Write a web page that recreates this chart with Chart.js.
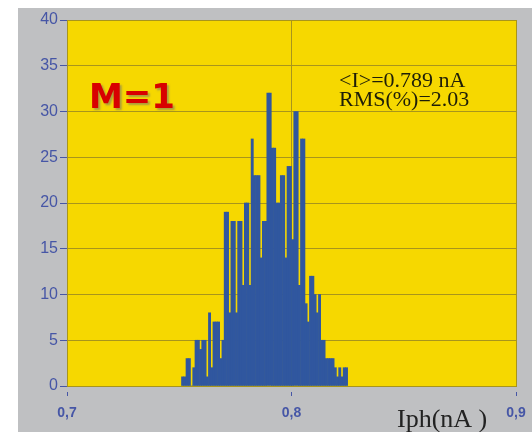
<!DOCTYPE html>
<html>
<head>
<meta charset="utf-8">
<script src="https://cdn.jsdelivr.net/npm/chart.js@4.4.0/dist/chart.umd.min.js"></script>
<style>
  body { margin: 0; background: #fff; }
  canvas { display: block; }
</style>
</head>
<body>
<canvas id="histChart" width="532" height="432"></canvas>
<script>
// Histograma de fotocorriente
const binStart = 0.751;   // borde izquierdo del primer bin (nA)
const binWidth = 0.001;   // ancho de bin (nA)
const counts = [
  1, 1, 3, 3, 0, 2, 5, 5, 4, 5,
  5, 1, 8, 2, 7, 7, 7, 3, 5, 19,
  19, 8, 18, 18, 8, 18, 18, 11, 20, 20,
  11, 27, 23, 23, 23, 14, 18, 18, 32, 32,
  26, 26, 20, 20, 23, 23, 14, 24, 24, 16,
  30, 30, 11, 27, 27, 9, 7, 12, 12, 10,
  8, 10, 5, 5, 3, 3, 3, 3, 2, 1,
  2, 1, 2, 2
];
const xTicks = [0.7, 0.8, 0.9];
const yTicks = [0, 5, 10, 15, 20, 25, 30, 35, 40];
const statLines = ['<I>=0.789 nA', 'RMS(%)=2.03'];
const gainLabel = 'M=1';
const xTitle = 'Iph(nA )';

const points = counts.map((c, i) => ({ x: binStart + binWidth * (i + 0.5), y: c }));

const decor = {
  id: 'decor',
  beforeDraw(chart) {
    const { ctx, chartArea: a } = chart;
    ctx.save();
    ctx.fillStyle = '#bfc0c2';
    ctx.fillRect(18, 8, chart.width - 18, chart.height - 8);
    ctx.fillStyle = '#f6d800';
    ctx.fillRect(a.left, a.top, a.right - a.left, a.bottom - a.top);
    ctx.restore();
  },
  afterDraw(chart) {
    const { ctx } = chart;
    ctx.save();
    // M=1
    ctx.font = 'bold 34px "DejaVu Sans"';
    ctx.textBaseline = 'alphabetic';
    ctx.textAlign = 'left';
    ctx.shadowColor = 'rgba(110,110,110,0.55)';
    ctx.shadowOffsetX = 2;
    ctx.shadowOffsetY = 2;
    ctx.shadowBlur = 2;
    ctx.fillStyle = '#d80000';
    ctx.fillText(gainLabel, 89, 108);
    ctx.shadowColor = 'transparent';
    // estadisticas
    ctx.font = '22px "Liberation Serif"';
    ctx.fillStyle = '#1e1e08';
    ctx.fillText(statLines[0], 339, 87);
    ctx.fillText(statLines[1], 339, 106);
    // titulo eje x
    ctx.font = '26px "Liberation Serif"';
    ctx.fillStyle = '#222';
    ctx.fillText(xTitle, 397, 427);
    ctx.restore();
  }
};

new Chart(document.getElementById('histChart'), {
  type: 'bar',
  data: {
    datasets: [{
      data: points,
      backgroundColor: '#30579f',
      borderWidth: 0,
      barPercentage: 1,
      categoryPercentage: 1
    }]
  },
  options: {
    responsive: false,
    animation: false,
    layout: { padding: { left: 0, right: 16, top: 20, bottom: 0 } },
    plugins: { legend: { display: false }, tooltip: { enabled: false } },
    scales: {
      x: {
        type: 'linear',
        min: 0.7,
        max: 0.9,
        offset: false,
        afterBuildTicks: s => { s.ticks = xTicks.map(v => ({ value: v })); },
        afterFit: s => { s.height = 46; s.paddingLeft = 0; s.paddingRight = 0; },
        grid: {
          offset: false,
          color: '#a8951c',
          tickColor: '#4656a6',
          tickLength: 10,
          tickBorderDash: [0, 5, 4, 10]
        },
        border: { color: '#a8951c' },
        ticks: {
          color: '#4656a6',
          font: { family: 'Liberation Sans', size: 14, weight: 'bold' },
          padding: 9,
          maxRotation: 0,
          callback: v => v.toFixed(1).replace('.', ',')
        }
      },
      y: {
        min: 0,
        max: 40,
        afterBuildTicks: s => { s.ticks = yTicks.map(v => ({ value: v })); },
        afterFit: s => { s.width = 67; },
        grid: {
          color: '#a8951c',
          tickColor: '#4656a6',
          tickLength: 7
        },
        border: { color: '#a8951c' },
        ticks: {
          color: '#4656a6',
          font: { family: 'Liberation Sans', size: 16 },
          padding: 2
        }
      }
    }
  },
  plugins: [decor]
});
</script>
</body>
</html>
